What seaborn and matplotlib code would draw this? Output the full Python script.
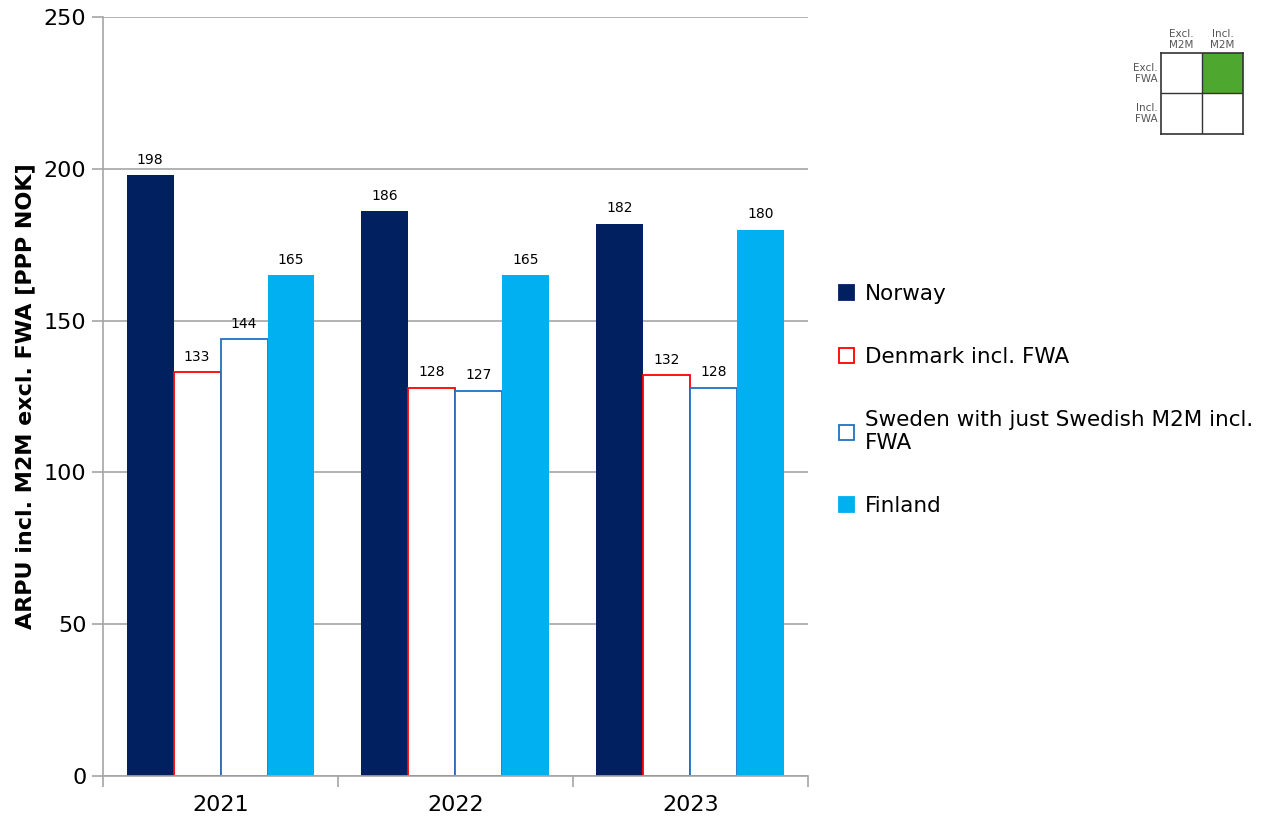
import pandas as pd
import seaborn as sns
import matplotlib.pyplot as plt
from matplotlib.patches import Patch

years = ['2021', '2022', '2023']
countries = ['Norway', 'Denmark incl. FWA', 'Sweden with just Swedish M2M incl. FWA', 'Finland']
norway = [198, 186, 182]
denmark = [133, 128, 132]
sweden = [144, 127, 128]
finland = [165, 165, 180]

legend_labels = ['Norway', 'Denmark incl. FWA', 'Sweden with just Swedish M2M incl.\nFWA', 'Finland']
face_colors = ['#002060', 'white', 'white', '#00b0f0']
edge_colors = ['#002060', '#ff0000', '#1f73c0', '#00b0f0']

df = pd.DataFrame({
    'Year': years * 4,
    'Country': [c for c in countries for _ in years],
    'ARPU': norway + denmark + sweden + finland,
})

sns.set_style('white')
plt.rcParams['font.family'] = ['DejaVu Sans']
plt.rcParams['text.color'] = 'black'
plt.rcParams['xtick.color'] = 'black'
plt.rcParams['ytick.color'] = 'black'
plt.rcParams['axes.labelcolor'] = 'black'

fig = plt.figure(figsize=(12.61, 8.22), dpi=100)
ax = fig.add_axes([0.0817, 0.056, 0.559, 0.923])

sns.barplot(data=df, x='Year', y='ARPU', hue='Country', hue_order=countries,
            palette=face_colors, width=0.8, saturation=1, legend=False, ax=ax)

# restyle the hollow bars and add value labels
for cont, fc, ec in zip(ax.containers, face_colors, edge_colors):
    for bar in cont:
        bar.set_facecolor(fc)
        bar.set_edgecolor(ec)
        bar.set_linewidth(1.3 if fc == 'white' else 0)
    ax.bar_label(cont, fmt='%d', padding=6, fontsize=10, color='black')

ax.set_ylim(0, 250)
ax.set_yticks(range(0, 251, 50))
ax.set_xlim(-0.5, 2.5)
ax.yaxis.grid(True, color='#a6a6a6', linewidth=1.2)
ax.set_axisbelow(True)

for side in ['top', 'right']:
    ax.spines[side].set_visible(False)
for side in ['left', 'bottom']:
    ax.spines[side].set_color('#a6a6a6')
    ax.spines[side].set_linewidth(1.2)

ax.tick_params(axis='y', left=True, length=8, color='#a6a6a6', labelcolor='black',
               width=1.2, labelsize=16, pad=4)
ax.tick_params(axis='x', which='major', bottom=False, length=0, labelsize=16, pad=14)
ax.set_xticks([-0.5, 0.5, 1.5, 2.5], minor=True)
ax.tick_params(axis='x', which='minor', bottom=True, length=8, color='#a6a6a6', width=1.2)

ax.set_xlabel('')
ax.set_ylabel('ARPU incl. M2M excl. FWA [PPP NOK]', fontsize=16, fontweight='bold', labelpad=6)

handles = [Patch(facecolor=fc, edgecolor=ec, linewidth=1.3) for fc, ec in zip(face_colors, edge_colors)]
fig.legend(handles, legend_labels, loc='center left', bbox_to_anchor=(0.65, 0.513),
           frameon=False, fontsize=15.5, handlelength=0.7, handleheight=0.7,
           handletextpad=0.5, labelspacing=2.0)

# small indicator grid top right
ins = fig.add_axes([1161 / 1261, 1 - 134 / 822, 82 / 1261, 81 / 822])
ins.set_xlim(0, 2)
ins.set_ylim(0, 2)
ins.add_patch(plt.Rectangle((1, 1), 1, 1, facecolor='#4ea72e', edgecolor='none'))
ins.axhline(1, color='#333333', linewidth=1)
ins.axvline(1, color='#333333', linewidth=1)
for s in ins.spines.values():
    s.set_color('#333333')
    s.set_linewidth(1.2)
ins.set_xticks([])
ins.set_yticks([])
for i, t in enumerate(['Excl.\nM2M', 'Incl.\nM2M']):
    ins.text(i + 0.5, 2.08, t, ha='center', va='bottom', fontsize=7.5, color='#555555', linespacing=1.1)
for i, t in enumerate(['Excl.\nFWA', 'Incl.\nFWA']):
    ins.text(-0.08, 1.5 - i, t, ha='right', va='center', fontsize=7.5, color='#555555', linespacing=1.1)

fig.savefig('out.png', dpi=100)
